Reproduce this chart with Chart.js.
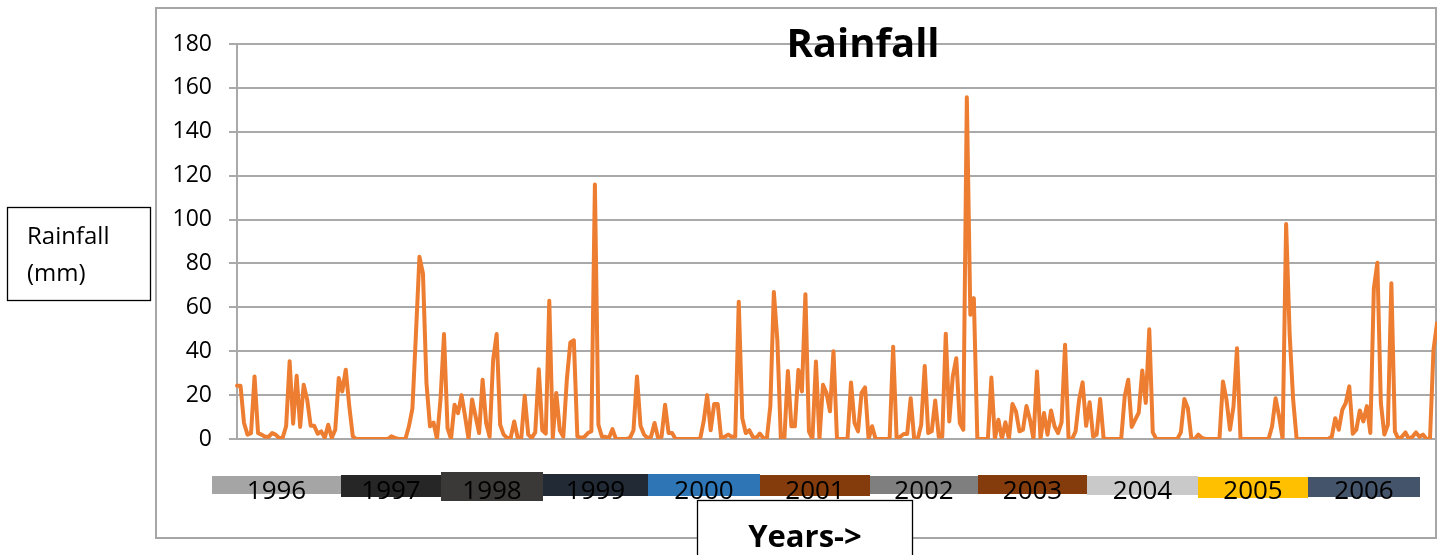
<!DOCTYPE html>
<html>
<head>
<meta charset="utf-8">
<script src="https://cdn.jsdelivr.net/npm/chart.js@4.4.1/dist/chart.umd.min.js"></script>
<style>
  html, body { margin: 0; padding: 0; background: #ffffff; }
  #wrap { position: relative; width: 1437px; height: 555px; overflow: hidden; }
  canvas { position: absolute; left: 0; top: 0; }
</style>
</head>
<body>
<div id="wrap"><canvas id="c" width="1437" height="555"></canvas></div>
<script>
// ---- data ----
const rainfall = [
  24.3, 24.3, 7.3, 2, 2.7, 28.5, 2.7, 2, 1, 1, 2.7, 2, 0.5, 0.5, 5.8, 35.4, 7, 28.8, 5.5, 24.7,
  18, 6, 6, 2.4, 3.5, 0.5, 6.5, 0.5, 4.2, 27.8, 21.7, 31.6, 15, 1.2, 0,
  0, 0, 0, 0, 0, 0, 0, 0, 0, 1.2, 0.5, 0, 0, 0,
  5.8, 14, 48, 83, 75.5, 25.5, 5.8, 7.5, 0, 18, 47.8, 5, 0, 15.6, 11.8, 20, 10.3, 0, 18, 10.3,
  2.7, 27, 7.3, 1, 36, 47.8, 6.5, 2, 0.5, 0.5, 8, 0.5, 0, 19.7, 2, 0.5, 3, 31.8, 4, 2.5,
  63, 0.5, 21, 4, 1, 27, 44, 45, 1.2, 0.5, 1, 2.7, 3.5,
  116,
  6.5, 1, 1, 0.5, 4.5, 0, 0, 0, 0, 0.5, 4, 28.5, 6, 2, 0.5, 1, 7.3, 0.5, 1, 15.6,
  2.7, 2.7, 0, 0, 0, 0, 0, 0, 0, 0, 8, 20, 4, 16, 16, 0, 1, 2, 1, 1,
  62.6, 9.5, 2.7, 4, 1, 0.5, 2.5, 0.5, 0, 15, 67, 45, 0, 0, 31, 5.8, 5.8, 31.5, 21.7, 66,
  3.5, 0, 35.3, 0, 24.7, 21, 12.6, 40, 0, 0, 0, 0, 25.8, 7.3, 3.5, 21, 23.5, 0, 5.8, 0,
  0, 0, 0, 0, 42, 0, 1, 2.3, 2.3, 18.6, 0, 0, 6.5, 33.3, 2.7, 3.5, 17.5, 1, 1, 48,
  8, 28.5, 36.8, 7.3, 4.2,
  155.7, 56.6, 64.2,
  0, 0, 0, 0, 28, 0, 8.8, 0, 7.6, 0, 16, 12.6, 3.5, 4.2, 15, 8.8, 0, 30.8, 0, 11.8,
  2, 13, 5.8, 2.7, 7.6, 43, 0, 0, 3.5, 17.9, 25.8, 6, 16.7, 1, 2, 18.2, 0, 0, 0, 0,
  0, 0, 19.4, 27, 5.5, 8.8, 12, 31.2, 16.4, 50, 3, 0, 0, 0, 0, 0, 0, 0, 3, 18.2,
  14, 0, 0, 2, 0.5, 0, 0, 0, 0, 0, 26.2, 17.9, 4.2, 14.8, 41.4, 0, 0, 0, 0, 0,
  0, 0, 0, 0, 5.8, 18.6, 10.3, 0,
  98, 48, 18,
  0, 0, 0, 0, 0, 0, 0, 0, 0, 0, 1, 9.5, 4.2, 13.3, 16.4, 24, 2.4, 4.2, 13, 8,
  15, 2.7, 68.6, 80.3, 16.4, 2, 6.5, 71, 3.5, 0, 1, 3, 0, 1, 3, 1, 2, 0, 0, 40.6, 52.7
];
const periods = rainfall.map((_, i) => String(i + 1));   // observation index (x axis hidden)
const yTicks = [0, 20, 40, 60, 80, 100, 120, 140, 160, 180];
const years = ['1996', '1997', '1998', '1999', '2000', '2001', '2002', '2003', '2004', '2005', '2006'];
const yearColors = ['#a5a5a5', '#262626', '#3b3838', '#222a35', '#2e75b6', '#843c0c',
                    '#7f7f7f', '#843c0c', '#c9c9c9', '#ffc000', '#44546a'];

// ---- layout of the hand-placed annotation shapes (pixels) ----
const yearBoxEdges = [212, 341, 441, 543, 648, 760, 870, 978, 1087, 1198, 1308, 1420];
const yearBoxTops    = [476, 475, 472, 474, 474, 475, 476, 475, 476, 477, 477];
const yearBoxBottoms = [494, 497, 501, 496, 496, 496, 494, 494, 495, 498, 497];

const FONT = "'Open Sans', 'Liberation Sans', sans-serif";

const annotations = {
  id: 'annotations',
  beforeDraw(chart) {
    const ctx = chart.ctx;
    ctx.save();
    ctx.fillStyle = '#ffffff';
    ctx.fillRect(0, 0, chart.width, chart.height);
    // outer chart frame
    ctx.strokeStyle = '#a6a6a6';
    ctx.lineWidth = 2;
    ctx.strokeRect(156, 8, 1280, 530);
    ctx.restore();
  },
  afterDraw(chart) {
    const ctx = chart.ctx;
    ctx.save();
    // title
    ctx.fillStyle = '#000';
    ctx.textAlign = 'center';
    ctx.textBaseline = 'alphabetic';
    ctx.font = "bold 40px " + FONT;
    ctx.fillText('Rainfall', 863, 57);

    // y-axis caption box
    ctx.fillStyle = '#fff';
    ctx.fillRect(7, 207, 144, 94);
    ctx.strokeStyle = '#000';
    ctx.lineWidth = 1.3;
    ctx.strokeRect(7.5, 207.5, 143, 93);
    ctx.fillStyle = '#000';
    ctx.textAlign = 'left';
    ctx.font = "24px " + FONT;
    ctx.fillText('Rainfall', 27, 244);
    ctx.fillText('(mm)', 27, 281);

    // year boxes
    ctx.font = "26px " + FONT;
    ctx.textAlign = 'center';
    years.forEach((yr, i) => {
      const x0 = yearBoxEdges[i], x1 = yearBoxEdges[i + 1];
      ctx.fillStyle = yearColors[i];
      ctx.fillRect(x0, yearBoxTops[i], x1 - x0, yearBoxBottoms[i] - yearBoxTops[i]);
      ctx.fillStyle = '#000';
      ctx.fillText(yr, (x0 + x1) / 2, 499);
    });

    // x-axis caption box
    ctx.fillStyle = '#fff';
    ctx.fillRect(697, 500, 216, 60);
    ctx.strokeStyle = '#000';
    ctx.lineWidth = 1.3;
    ctx.strokeRect(697.5, 500.5, 215, 60);
    ctx.fillStyle = '#000';
    ctx.font = "bold 31px " + FONT;
    ctx.fillText('Years->', 805, 547);
    ctx.restore();
  }
};

new Chart(document.getElementById('c'), {
  type: 'line',
  data: {
    labels: periods,
    datasets: [{
      label: 'Rainfall',
      data: rainfall,
      borderColor: '#ED7D31',
      borderWidth: 4,
      borderJoinStyle: 'round',
      borderCapStyle: 'round',
      pointRadius: 0,
      tension: 0,
      fill: false
    }]
  },
  options: {
    responsive: false,
    animation: false,
    layout: { padding: { left: 0, right: 0, top: 44, bottom: 116 } },
    plugins: { legend: { display: false }, title: { display: false }, tooltip: { enabled: false } },
    scales: {
      x: { display: false },
      y: {
        min: 0, max: 180,
        afterBuildTicks(scale) { scale.ticks = yTicks.map(v => ({ value: v })); },
        afterFit(scale) { scale.width = 237; },
        ticks: { color: '#000', font: { family: FONT, size: 23 }, padding: 17 },
        grid: { color: '#a9a9a9', lineWidth: 2, tickLength: 8 },
        border: { color: '#a9a9a9', width: 2 }
      }
    }
  },
  plugins: [annotations]
});
</script>
</body>
</html>
